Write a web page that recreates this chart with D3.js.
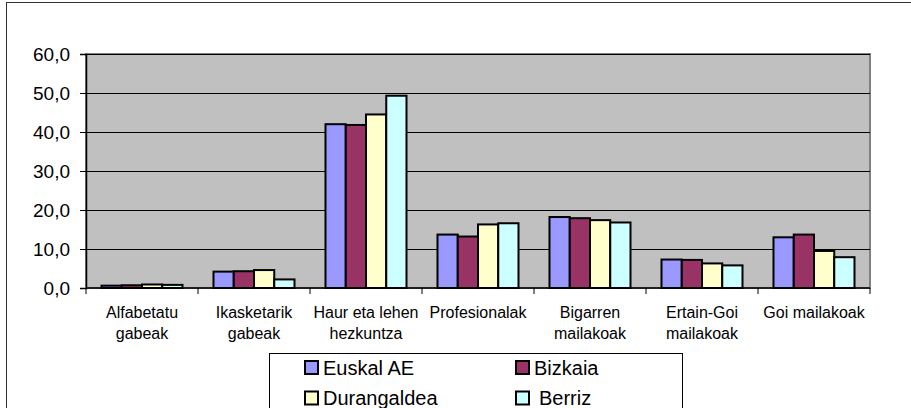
<!DOCTYPE html>
<html>
<head>
<meta charset="utf-8">
<script src="https://cdn.jsdelivr.net/npm/d3@7"></script>
<style>
    body { margin: 0; background: #fff; }
    text { font-family: Arial, "Liberation Sans", sans-serif; fill: #000; }
</style>
</head>
<body>
<div id="chart"></div>
<script>
'use strict';

// Data
const categories = ['Alfabetatu\ngabeak', 'Ikasketarik\ngabeak', 'Haur eta lehen\nhezkuntza', 'Profesionalak',
    'Bigarren\nmailakoak', 'Ertain-Goi\nmailakoak', 'Goi mailakoak'];
const seriesNames = ['Euskal AE', 'Bizkaia', 'Durangaldea', 'Berriz'];
const euskalAE = [0.6, 4.2, 42.0, 13.7, 18.2, 7.3, 13.0];
const bizkaia = [0.7, 4.3, 41.8, 13.2, 17.9, 7.2, 13.7];
const durangaldea = [0.9, 4.6, 44.5, 16.3, 17.4, 6.3, 9.5];
const berriz = [0.8, 2.2, 49.3, 16.6, 16.8, 5.8, 7.9];
const yTicks = [0, 10, 20, 30, 40, 50, 60];

const seriesValues = [euskalAE, bizkaia, durangaldea, berriz];
const colors = ['#9999FF', '#993366', '#FFFFCC', '#CCFFFF'];

const width = 911, height = 408;
const plot = { left: 86, right: 870, top: 54, bottom: 288 };

const svg = d3.select('#chart').append('svg')
    .attr('width', width).attr('height', height);

// outer chart frame (cut off at right / bottom)
svg.append('rect')
    .attr('x', 6.5).attr('y', 2.5)
    .attr('width', width + 20).attr('height', height + 20)
    .attr('fill', '#fff').attr('stroke', '#333').attr('stroke-width', 1);

const x0 = d3.scaleBand().domain(d3.range(categories.length)).range([plot.left, plot.right]).padding(0);
const x1 = d3.scaleBand().domain(d3.range(seriesNames.length)).range([15.5, x0.bandwidth() - 15.5]).padding(0);
const y = d3.scaleLinear().domain([0, 60]).range([plot.bottom, plot.top]);

// plot background
svg.append('rect')
    .attr('x', plot.left).attr('y', plot.top)
    .attr('width', plot.right - plot.left).attr('height', plot.bottom - plot.top)
    .attr('fill', '#C0C0C0').attr('stroke', '#808080').attr('stroke-width', 2);

// gridlines
svg.append('g').selectAll('line')
    .data(yTicks.slice(1))
    .enter().append('line')
    .attr('x1', plot.left).attr('x2', plot.right)
    .attr('y1', d => Math.round(y(d)) + 0.5).attr('y2', d => Math.round(y(d)) + 0.5)
    .attr('stroke', '#000').attr('stroke-width', 1);

// bars
const groups = svg.append('g').selectAll('g')
    .data(categories)
    .enter().append('g')
    .attr('transform', (d, i) => `translate(${x0(i)},0)`);

groups.selectAll('rect')
    .data((d, i) => seriesValues.map((s, j) => ({ s: j, v: s[i] })))
    .enter().append('rect')
    .attr('x', d => x1(d.s))
    .attr('y', d => y(d.v))
    .attr('width', x1.bandwidth())
    .attr('height', d => y(0) - y(d.v))
    .attr('fill', d => colors[d.s])
    .attr('stroke', '#000').attr('stroke-width', 2);

// y axis
const yAxis = d3.axisLeft(y).tickValues(yTicks).tickSize(6).tickPadding(10)
    .tickFormat(d => d.toFixed(1).replace('.', ','));
const gy = svg.append('g').attr('transform', `translate(${plot.left},0)`).call(yAxis);
gy.select('.domain').attr('stroke', '#000').attr('stroke-width', 1.5);
gy.selectAll('.tick line').attr('stroke', '#000');
gy.selectAll('.tick text').style('font-size', '19px').attr('font-family', null);

// x axis
const xTickPos = d3.range(categories.length + 1).map(i => plot.left + i * x0.bandwidth());
svg.append('line')
    .attr('x1', plot.left).attr('x2', plot.right)
    .attr('y1', plot.bottom).attr('y2', plot.bottom)
    .attr('stroke', '#000').attr('stroke-width', 1.5);
svg.append('g').selectAll('line')
    .data(xTickPos)
    .enter().append('line')
    .attr('x1', d => d).attr('x2', d => d)
    .attr('y1', plot.bottom).attr('y2', plot.bottom + 6)
    .attr('stroke', '#000');

// category labels
const catLabel = svg.append('g').selectAll('text')
    .data(categories)
    .enter().append('text')
    .attr('text-anchor', 'middle')
    .style('font-size', '16px')
    .attr('transform', (d, i) => `translate(${x0(i) + x0.bandwidth() / 2}, 318)`);
catLabel.selectAll('tspan')
    .data(d => d.split('\n'))
    .enter().append('tspan')
    .attr('x', 0)
    .attr('y', (d, i) => i * 20.5)
    .text(d => d);

// legend
const legend = svg.append('g').attr('class', 'legend');
legend.append('rect')
    .attr('x', 269.5).attr('y', 353.5)
    .attr('width', 413).attr('height', 80)
    .attr('fill', '#fff').attr('stroke', '#000').attr('stroke-width', 1);

const legendItem = legend.selectAll('g.item')
    .data(seriesNames)
    .enter().append('g')
    .attr('class', 'item')
    .attr('transform', (d, i) => `translate(${i % 2 === 0 ? 305 : 516}, ${361 + Math.floor(i / 2) * 30.5})`);

legendItem.append('rect')
    .attr('width', 13).attr('height', 13)
    .attr('fill', (d, i) => colors[i])
    .attr('stroke', '#000').attr('stroke-width', 2);

legendItem.append('text')
    .attr('x', (d, i) => i === 3 ? 23 : 18)
    .attr('y', 13.5)
    .style('font-size', '20px')
    .text(d => d);
</script>
</body>
</html>
